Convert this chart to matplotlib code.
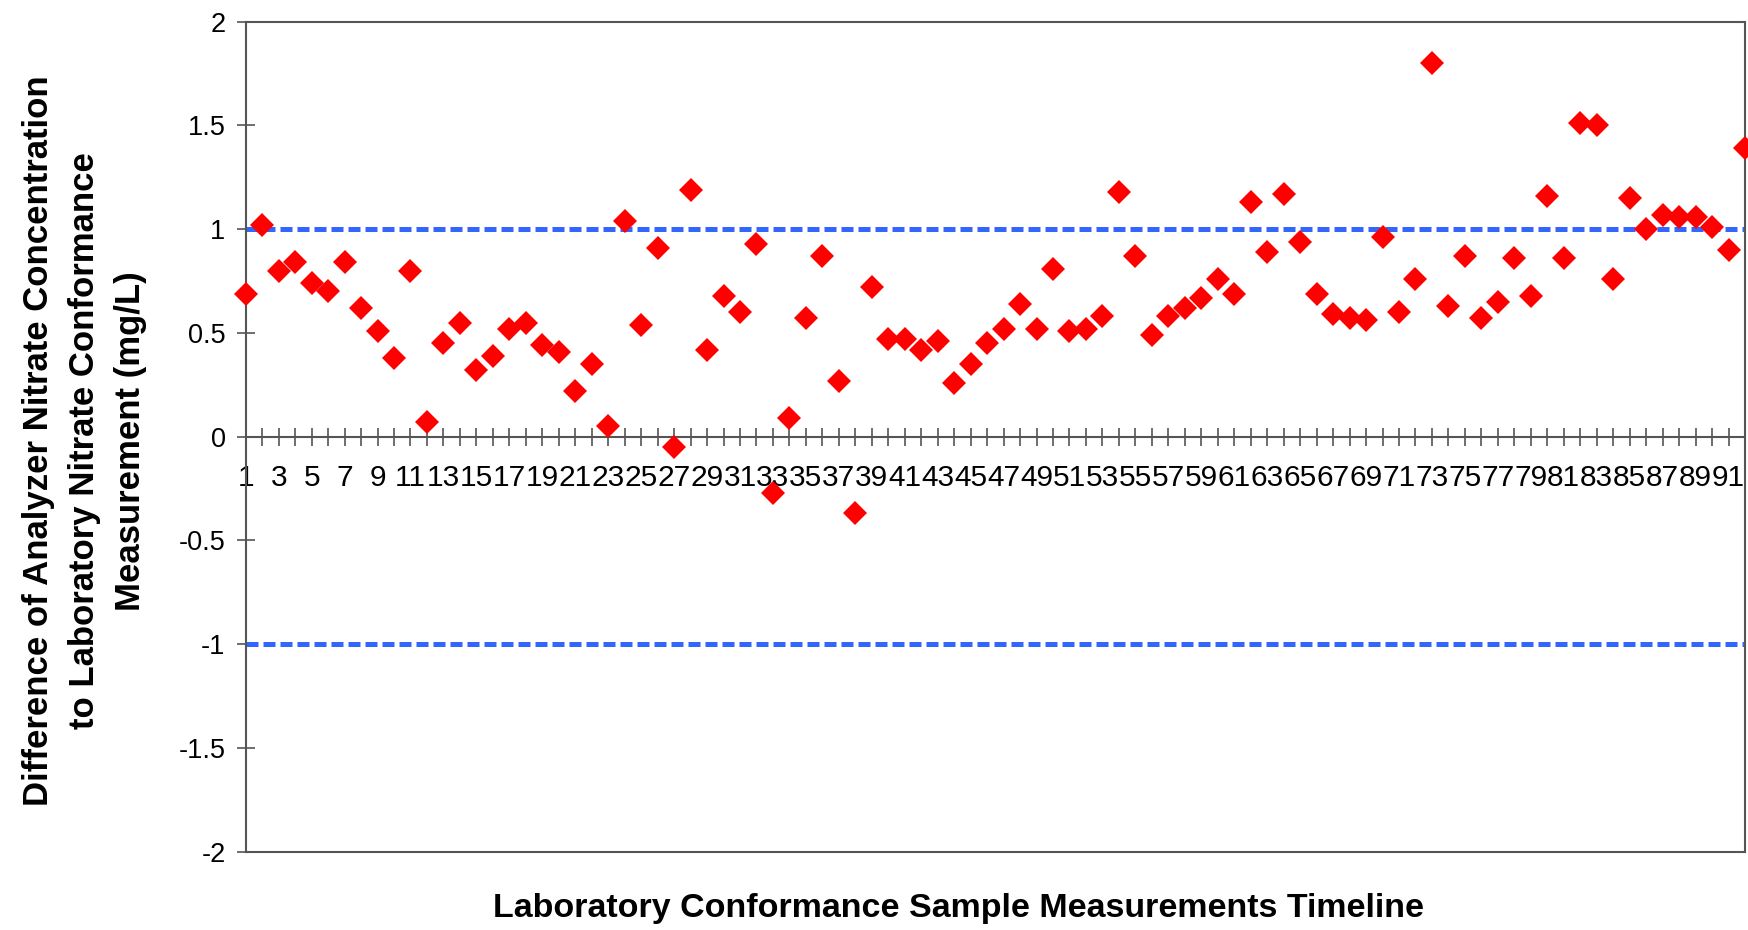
import numpy as np
import matplotlib
matplotlib.use("Agg")
import matplotlib.pyplot as plt
from matplotlib import font_manager

# differences analyzer - laboratory (mg/L)
differences = [
    0.69, 1.02, 0.80, 0.84, 0.74, 0.70, 0.84, 0.62, 0.51, 0.38,
    0.80, 0.07, 0.45, 0.55, 0.32, 0.39, 0.52, 0.55, 0.44, 0.41,
    0.22, 0.35, 0.05, 1.04, 0.54, 0.91, -0.05, 1.19, 0.42, 0.68,
    0.60, 0.93, -0.27, 0.09, 0.57, 0.87, 0.27, -0.37, 0.72, 0.47,
    0.47, 0.42, 0.46, 0.26, 0.35, 0.45, 0.52, 0.64, 0.52, 0.81,
    0.51, 0.52, 0.58, 1.18, 0.87, 0.49, 0.58, 0.62, 0.67, 0.76,
    0.69, 1.13, 0.89, 1.17, 0.94, 0.69, 0.59, 0.57, 0.56, 0.96,
    0.60, 0.76, 1.80, 0.63, 0.87, 0.57, 0.65, 0.86, 0.68, 1.16,
    0.86, 1.51, 1.50, 0.76, 1.15, 1.00, 1.07, 1.06, 1.06, 1.01,
    0.90, 1.39,
]
samples = list(range(1, len(differences) + 1))
limits = [1, -1]
y_ticks = [2, 1.5, 1, 0.5, 0, -0.5, -1, -1.5, -2]
y_tick_labels = ["2", "1.5", "1", "0.5", "0", "-0.5", "-1", "-1.5", "-2"]
x_tick_labels = [str(s) if s % 2 == 1 else "" for s in samples]

x_title = "Laboratory Conformance Sample Measurements Timeline"
y_title = ("Difference of Analyzer Nitrate Concentration\n"
           "to Laboratory Nitrate Conformance\n"
           "Measurement (mg/L)")

plt.rcParams['axes.unicode_minus'] = False
plt.rcParams['font.family'] = ['Liberation Sans', 'DejaVu Sans']

names = {f.name for f in font_manager.fontManager.ttflist}
title_font = 'Liberation Sans Narrow' if 'Liberation Sans Narrow' in names else 'Liberation Sans'

fig = plt.figure(figsize=(17.49, 9.30), dpi=100)
ax = fig.add_axes([0.1405, 0.0842, 0.8572, 0.8925])

spine_col = '#555555'
for s in ['left', 'right', 'top']:
    ax.spines[s].set_color(spine_col)
    ax.spines[s].set_linewidth(1.5)
ax.spines['bottom'].set_position(('data', 0))
ax.spines['bottom'].set_color(spine_col)
ax.spines['bottom'].set_linewidth(1.5)
# bottom edge of the plot area
ax.plot([0, 1], [0, 0], transform=ax.transAxes, color=spine_col, lw=1.5, clip_on=False)

for lim in limits:
    ax.axhline(lim, color='#3366FF', lw=3.6, ls=(0, (2.4, 1.0)), dash_capstyle='butt')

ax.plot(samples, differences, ls='none', marker='D', ms=12.5, color='#FF0000',
        mec='#FF0000', mew=0, clip_on=False, zorder=5)

ax.set_xlim(1, len(differences))
ax.set_ylim(-2, 2)
ax.set_yticks(y_ticks)
ax.set_yticklabels(y_tick_labels)
ax.set_xticks(samples)
ax.set_xticklabels(x_tick_labels)
ax.tick_params(axis='both', direction='inout', length=13, width=1.2, color=spine_col)
ax.tick_params(axis='y', pad=8, labelsize=19.5)
ax.tick_params(axis='x', pad=13, labelsize=21.5)

fig.text(0.548, 0.0226, x_title, ha='center', va='center', fontsize=24.5,
         fontweight='bold', family=title_font)
fig.text(0.0485, 0.526, y_title, ha='center', va='center', rotation=90, fontsize=25,
         fontweight='bold', family=title_font, multialignment='center', linespacing=1.5)

fig.savefig('out.png', dpi=100)
